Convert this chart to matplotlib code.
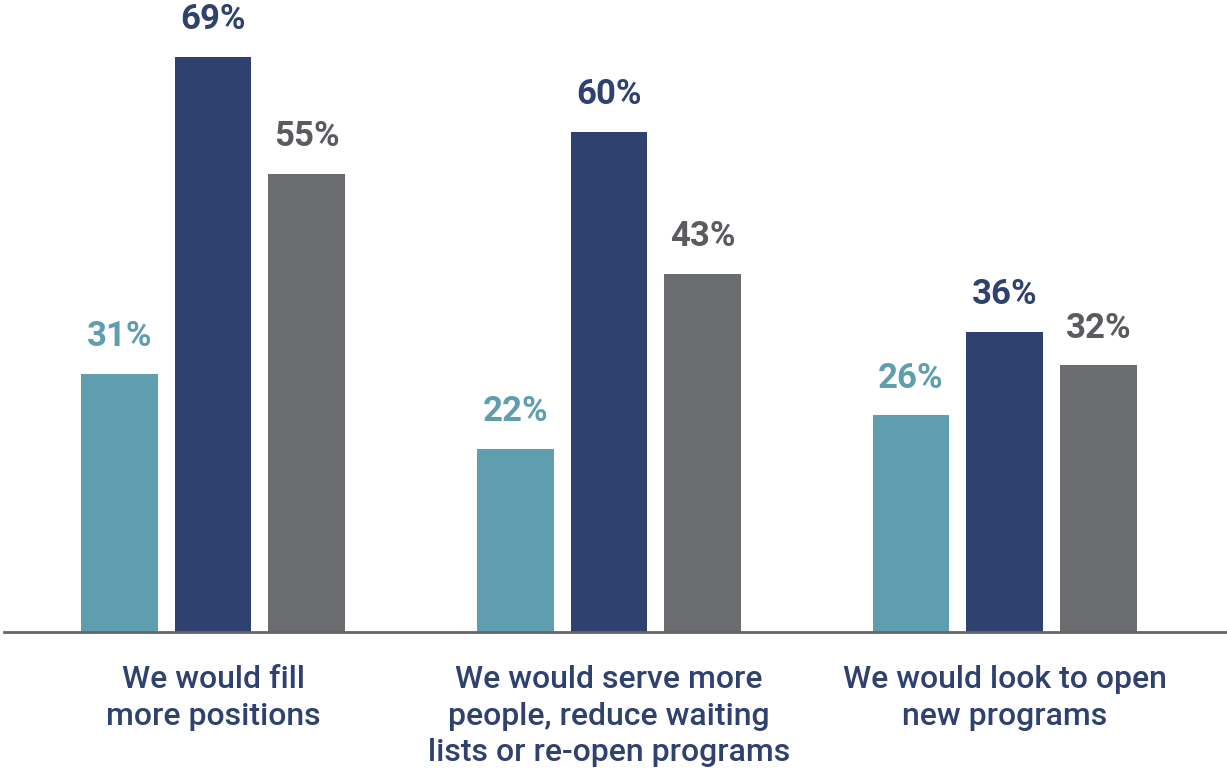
import numpy as np
import matplotlib.pyplot as plt

plt.rcParams['font.family'] = ['Roboto', 'DejaVu Sans']

categories = ["We would fill\nmore positions",
              "We would serve more\npeople, reduce waiting\nlists or re-open programs",
              "We would look to open\nnew programs"]
series_a = [31, 22, 26]
series_b = [69, 60, 36]
series_c = [55, 43, 32]

colors = ["#5E9EAE", "#2F416E", "#6B6C70"]
label_colors = ["#5E9EAE", "#2F416E", "#5A5B5F"]

W, H = 1227, 771
fig = plt.figure(figsize=(W / 100, H / 100), dpi=100)
base = 632
ax = fig.add_axes([4 / W, (H - base) / H, 1 - 4 / W, base / H])

x = np.arange(len(categories))
width = 0.194
offset = 0.237
for i, vals in enumerate([series_a, series_b, series_c]):
    pos = x + (i - 1) * offset
    bars = ax.bar(pos, vals, width=width, color=colors[i], zorder=2)
    for b, v in zip(bars, vals):
        ax.annotate(f"{v}%", (b.get_x() + b.get_width() / 2, v),
                    xytext=(0, 15), textcoords='offset points',
                    ha='center', va='bottom', fontsize=25,
                    fontweight='bold', color=label_colors[i])

ax.set_xlim(-0.528, 2.561)
ax.set_ylim(0, base / 8.33)
for s in ['top', 'right', 'left']:
    ax.spines[s].set_visible(False)
ax.spines['bottom'].set_color('#666666')
ax.spines['bottom'].set_linewidth(2)
ax.set_yticks([])
ax.set_xticks([])

for xi, cat in zip(x, categories):
    ax.annotate(cat, (xi, 0), xytext=(0, -24), textcoords='offset points',
                ha='center', va='top', fontsize=23, fontweight='medium',
                color='#2F416E', linespacing=1.32, multialignment='center')

fig.savefig('out.png', dpi=100)
